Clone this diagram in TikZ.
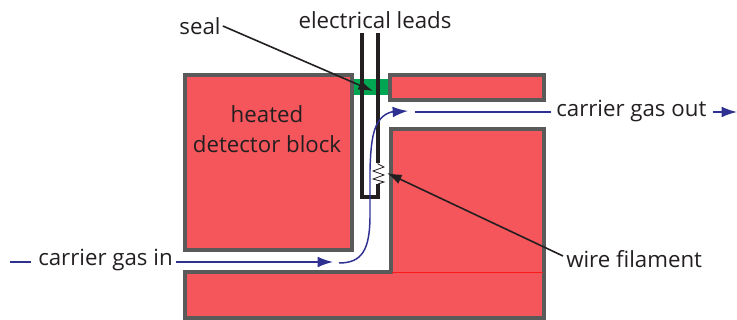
\documentclass[tikz,border=0pt]{standalone}
\usepackage{fontspec}
\setmainfont{Open Sans}
\usetikzlibrary{arrows.meta}
\definecolor{blockred}{RGB}{245,86,92}
\definecolor{edgegray}{RGB}{90,90,90}
\definecolor{sealgreen}{RGB}{0,166,81}
\definecolor{flowblue}{RGB}{46,49,146}
\definecolor{inkdark}{RGB}{35,31,32}
\tikzset{
  x=0.75pt,y=-0.75pt,
  block/.style={fill=blockred,draw=edgegray,line width=3pt,line join=miter},
  lead/.style={draw=inkdark,line width=2.6pt,line join=miter},
  flow/.style={draw=flowblue,line width=1.1pt},
  flowhead/.style={-{Latex[length=11.5pt,width=8pt]},flow},
  pointer/.style={draw=inkdark,line width=1.2pt},
  pointertip/.style={-{Latex[length=11pt,width=7.5pt]},pointer},
  lab/.style={inner sep=0pt,text=inkdark,font=\fontsize{16.7pt}{22.5pt}\selectfont,align=center},
}
\begin{document}
\begin{tikzpicture}
\useasboundingbox (0,0) rectangle (737,320);
% red blocks
\draw[block] (185,75) rectangle (352,250);
\draw[block] (390,75) rectangle (544,100);
\draw[block] (544,129) -- (391,129) -- (391,272) -- (185,272) -- (185,318) -- (544,318) -- cycle;
\draw[red!70!blockred,line width=0.3pt] (392,272.5) -- (543,272.5);
% seal
\fill[sealgreen] (354,79) rectangle (388,95);
% anchors
\coordinate (leadLtop) at (362,33);
\coordinate (leadRtop) at (378,33);
\coordinate (tubeBL) at (362,197);
\coordinate (tubeBR) at (378,197);
\coordinate (filTop) at (378,163);
\coordinate (filBot) at (378,184);
\coordinate (sealTip) at (373,91);
\coordinate (wireTip) at (387,173);
\coordinate (inStart) at (10,262);
\coordinate (inStop) at (31,262);
\coordinate (inHead) at (333,262);
\coordinate (curveStart) at (339,263);
\coordinate (curveHead) at (408,111);
\coordinate (outStart) at (415,112);
\coordinate (outStop) at (551,112);
\coordinate (outA) at (713,112);
\coordinate (outB) at (737,112);
% leads
\draw[lead] (leadLtop) -- (tubeBL) -- (tubeBR) -- (filBot);
\draw[lead] (leadRtop) -- (filTop);
\draw[inkdark,line width=0.6pt] (filTop) -- (378,164) -- (384,167) -- (373,171) -- (384,175) -- (373,179) -- (384,182) -- (filBot);
% labels
\node[lab] (seal) at (200,26) {seal};
\node[lab] (leads) at (375,20) {electrical leads};
\node[lab] (heated) at (267,129) {heated\\detector block};
\node[lab,anchor=west] (gasin) at (38,260) {carrier gas in};
\node[lab,anchor=west] (gasout) at (556,111) {carrier gas out};
\node[lab,anchor=west] (wire) at (566,259) {wire filament};
% pointers
\draw[pointertip] (seal.east) ++(2,0) -- (sealTip);
\draw[pointertip] (wire.west) ++(-3,-3) -- (wireTip);
% flow
\draw[flow] (inStart) -- (inStop);
\draw[flowhead] (gasin.east) ++(3,2) -- (inHead);
\draw[flow] (curveStart) .. controls (362,263) and (370,250) .. (370,215) -- (370,170)
  .. controls (371,135) and (374,114) .. (396,111);
\draw[flowhead] (392,112) -- (curveHead);
\draw[flow] (outStart) -- (outStop);
\draw[flowhead] (outA) -- (outB);
\end{tikzpicture}
\end{document}
